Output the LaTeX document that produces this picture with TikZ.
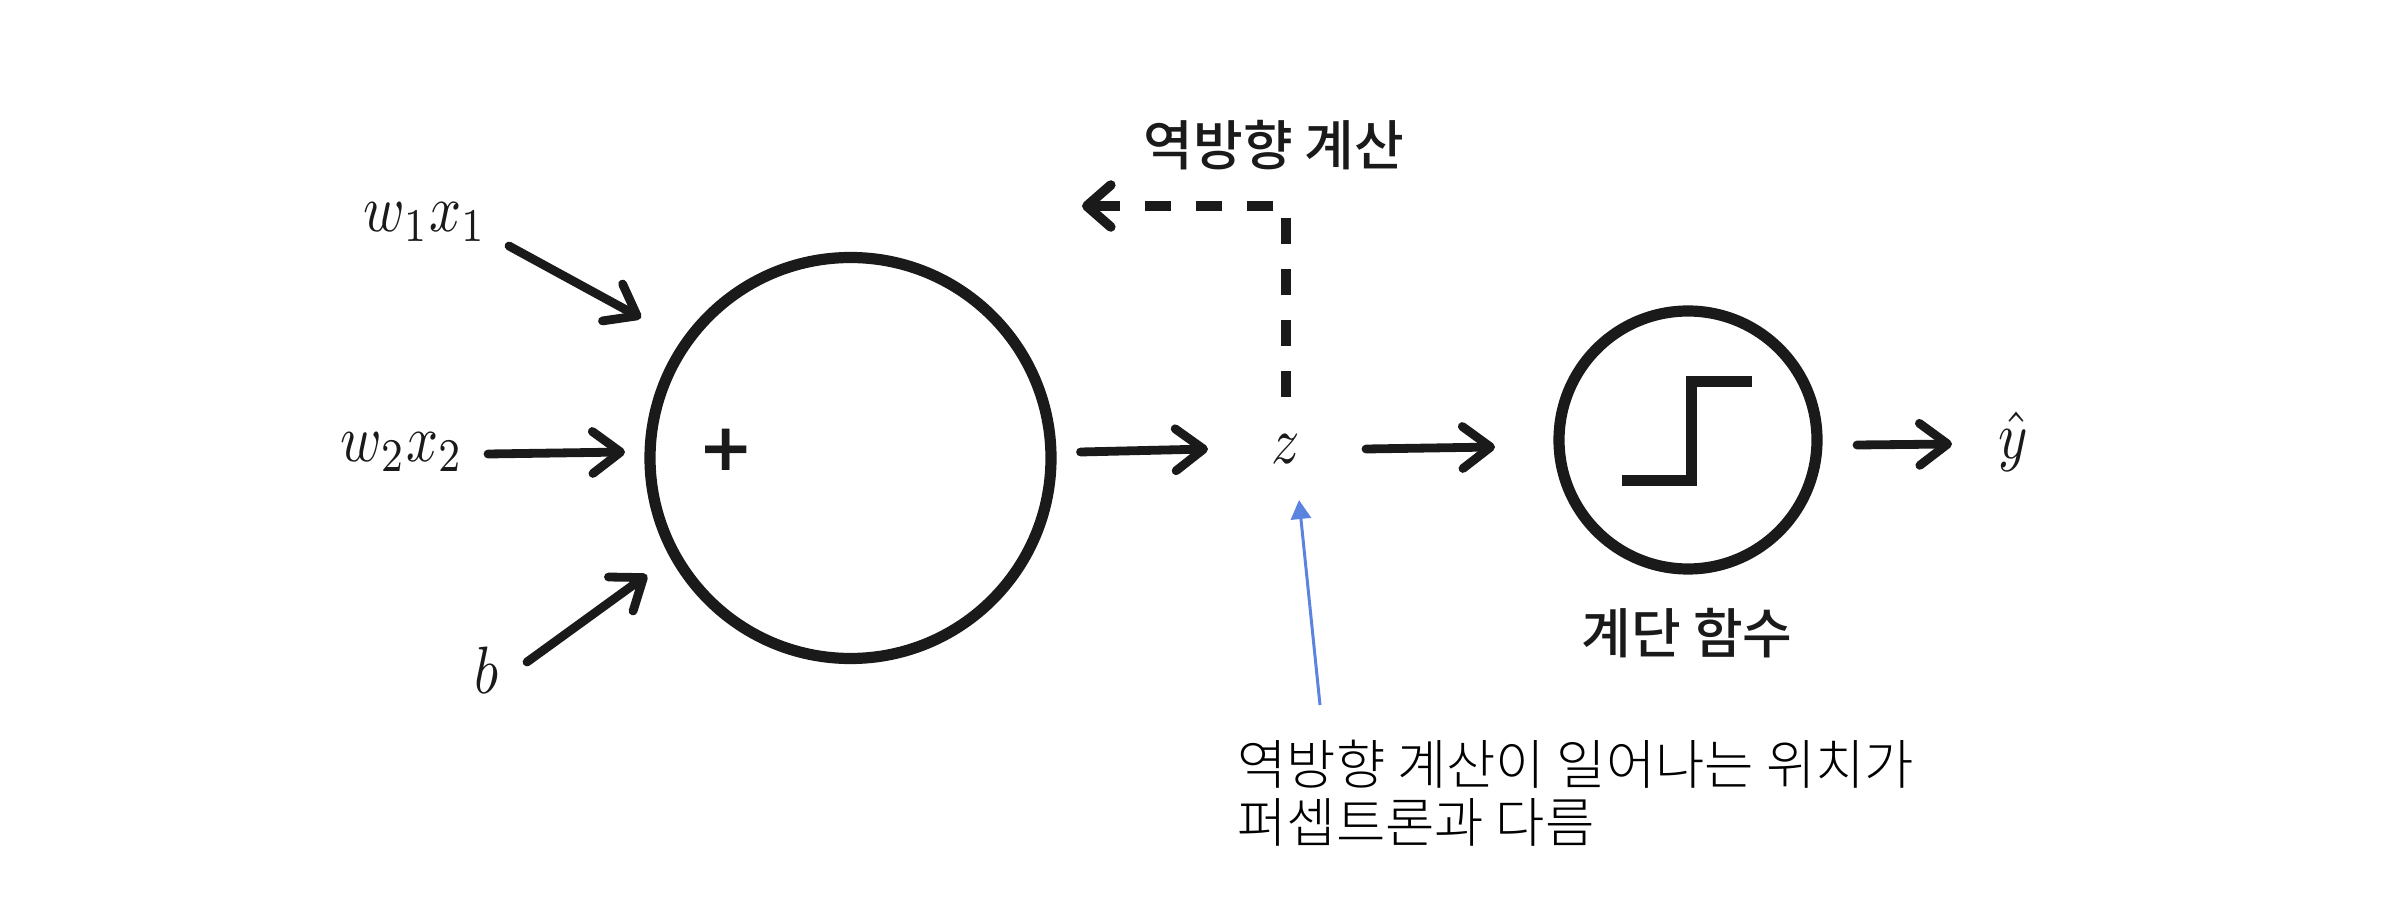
\documentclass[tikz,border=0pt]{standalone}
\usepackage{fontspec}
\newfontfamily\krfont{Noto Sans CJK KR}
\newfontfamily\krmedium{Noto Sans CJK KR Medium}
\newfontfamily\krlight{Noto Sans CJK KR Light}
\usetikzlibrary{arrows.meta}
\definecolor{ink}{HTML}{1A1A1A}
\definecolor{noteblue}{HTML}{5B84E0}
\tikzset{
  hand/.style={draw=ink,line width=4.4pt,line cap=round,line join=round,-{Straight Barb[length=14pt,width=21pt,round]}},
  backarrow/.style={draw=ink,line width=4.8pt,dash pattern=on 13pt off 12.5pt,-{Straight Barb[length=12pt,width=21pt,round]}},
  ring/.style={circle,draw=ink,inner sep=0pt,outer sep=0pt},
  mathlabel/.style={text=ink,inner sep=0pt,xscale=2.8,yscale=3.35},
  handkr/.style={text=ink,inner sep=0pt,font=\krmedium\fontsize{27}{30}\selectfont},
  notekr/.style={text=black,inner sep=0pt,align=left,font=\krlight\fontsize{26.8}{29}\selectfont}
}
\begin{document}
\begin{tikzpicture}[x=.5pt,y=-.5pt]
\useasboundingbox (0,0) rectangle (2398,908);
% nodes
\node[ring,line width=5.6pt,minimum size=200.5pt] (sum) at (850.5,458) {};
\node[ring,line width=5.6pt,minimum size=129pt] (act) at (1688,440) {};
\node[mathlabel] (w1) at (425,222) {$w_1x_1$};
\node[mathlabel] (w2) at (402,452) {$w_2x_2$};
\node[mathlabel] (bb) at (487,670) {$b$};
\node[mathlabel] (z) at (1286,449) {$z$};
\node[mathlabel] (yhat) at (2013,442) {$\hat{y}$};
\node[text=ink,inner sep=0pt,font=\fontsize{33}{33}\selectfont] (plus) at (726,450) {\fontspec{DejaVu Sans Bold}+};
\node[handkr] (back) at (1274,145) {역방향 계산};
\node[handkr] (actlabel) at (1687,633) {계단 함수};
\node[notekr,anchor=west] (note) at (1237,793) {역방향 계산이 일어나는 위치가\\퍼셉트론과 다름};
% step function inside the activation circle
\draw[ink,line width=5.5pt,line join=miter] ([shift={(-66,41)}]act.center) -- ([shift={(3,41)}]act.center) -- ([shift={(3,-58)}]act.center) -- ([shift={(64,-58)}]act.center);
% connectors
\draw[hand] ([shift={(84,24)}]w1.center) -- ([shift={(-209.5,-140)}]sum.center);
\draw[hand] ([shift={(86,2)}]w2.center) -- ([shift={(-225.5,-6)}]sum.center);
\draw[hand] ([shift={(40,-8)}]bb.center) -- ([shift={(-203.5,117)}]sum.center);
\draw[hand] ([shift={(230,-6)}]sum.center) -- ([shift={(-78,0)}]z.center);
\draw[hand] ([shift={(80,0)}]z.center) -- ([shift={(-193,7)}]act.center);
\draw[hand] ([shift={(169,5)}]act.center) -- ([shift={(-61,2)}]yhat.center);
\draw[backarrow] ([shift={(0,-52)}]z.center) -- ([shift={(12,61)}]back.center) -- ([shift={(-192,61)}]back.center);
\draw[noteblue,line width=1.5pt,-{Triangle[length=9.5pt,width=10pt]}] ([shift={(83,-88)}]note.west) -- ([shift={(13,51)}]z.center);
\end{tikzpicture}
\end{document}
